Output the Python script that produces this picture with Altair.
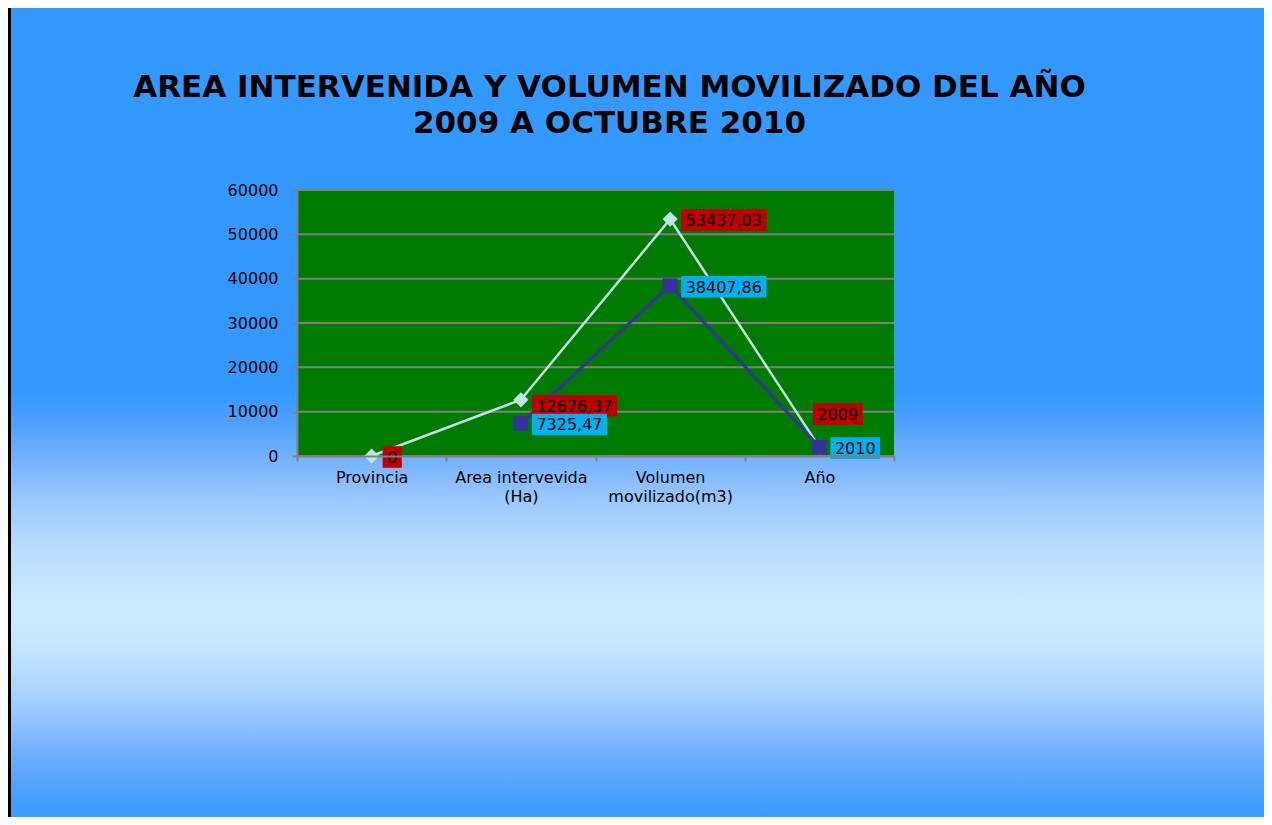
import altair as alt
import pandas as pd

# ---------------- data ----------------
categories = ["Provincia", "Area intervevida\n(Ha)", "Volumen\nmovilizado(m3)", "Año"]
serie_roja = [0, 12676.37, 53437.03, 2009]        # light line, diamonds, red labels
serie_azul = [None, 7325.47, 38407.86, 2010]      # dark line, squares, blue labels
y_ticks = [0, 10000, 20000, 30000, 40000, 50000, 60000]
title_lines = ["AREA INTERVENIDA Y VOLUMEN MOVILIZADO DEL AÑO", "2009 A OCTUBRE 2010"]


def fmt(v):
    if float(v).is_integer():
        return str(int(v))
    return f"{v:.2f}".replace(".", ",")


rows = []
for s, vals in (("s1", serie_roja), ("s2", serie_azul)):
    for c, v in zip(categories, vals):
        if v is None:
            continue
        rows.append({"serie": s, "cat": c, "value": v, "label": fmt(v)})
df = pd.DataFrame(rows)
grid_df = pd.DataFrame({"t": y_ticks})
one = pd.DataFrame({"k": [0]})
title_df = pd.DataFrame({"line": title_lines, "n": list(range(len(title_lines)))})

# ---------------- style ----------------
W, H = 597, 266
PAD = {"left": 289, "top": 182, "right": 370, "bottom": 361}
BG_BOTTOM = 635          # gradient drawn for the full 817px tall slide
GREEN = "#007A00"
GRAY = "#808080"
LIGHT = "#C2E4E4"
DARK = "#333399"
RED = "#C00000"
CYAN = "#00B0F0"
FONT = "DejaVu Sans"

x_axis = alt.Axis(title=None, labelExpr="split(datum.label, '\\n')", labelAngle=0,
                  tickBand="extent", domainColor=GRAY, domainWidth=2, tickColor=GRAY,
                  tickWidth=2, tickSize=5, labelFont=FONT, labelFontSize=16,
                  labelColor="black", labelPadding=8, labelLineHeight=19, grid=False,
                  zindex=1)
y_axis = alt.Axis(title=None, values=y_ticks, format="d", grid=False, domainColor=GRAY,
                  domainWidth=2, tickColor=GRAY, tickWidth=2, tickSize=5, labelFont=FONT,
                  labelFontSize=16, labelColor="black", labelPadding=14, zindex=1)
x_scale = alt.Scale(type="band", domain=categories, paddingInner=0, paddingOuter=0)
y_scale = alt.Scale(domain=[0, 60000], nice=False, zero=True)


def X():
    return alt.X("cat:N", scale=x_scale, axis=x_axis, sort=categories)


def Y(field="value"):
    return alt.Y(f"{field}:Q", scale=y_scale, axis=y_axis)


# ---------------- decoration ----------------
stops = [(0.0, "#3399FF"), (0.471, "#3399FF"), (0.517, "#55A3FF"), (0.553, "#76B2FF"),
         (0.602, "#9AC8FF"), (0.663, "#BADDFF"), (0.731, "#CCEBFF"), (0.774, "#C6E7FF"),
         (0.822, "#B3DAFF"), (0.871, "#95C3FF"), (0.920, "#6AABFF"), (0.969, "#45A0FF"),
         (1.0, "#3699FF")]
gradient = alt.LinearGradient(gradient="linear", x1=0, x2=0, y1=0, y2=1,
                              stops=[alt.GradientStop(offset=o, color=c) for o, c in stops])

bg = alt.Chart(one).mark_rect(fill=gradient, strokeWidth=0).encode(
    x=alt.value(-PAD["left"]), x2=alt.value(W + PAD["right"]),
    y=alt.value(-PAD["top"]), y2=alt.value(BG_BOTTOM))
border = alt.Chart(one).mark_rect(color="black").encode(
    x=alt.value(-PAD["left"]), x2=alt.value(-PAD["left"] + 3),
    y=alt.value(-PAD["top"]), y2=alt.value(BG_BOTTOM))
plot_bg = alt.Chart(one).mark_rect(color=GREEN).encode(
    x=alt.value(0), x2=alt.value(W), y=alt.value(0), y2=alt.value(H))
grid = alt.Chart(grid_df).mark_rule(color=GRAY, strokeWidth=2).encode(
    y=Y("t"), x=alt.value(0), x2=alt.value(W))

# chart title (two centred lines)
title1 = alt.Chart(title_df).transform_filter("datum.n == 0").mark_text(
    font=FONT, fontSize=31, fontWeight="bold", color="black", align="center",
    baseline="alphabetic").encode(text="line:N", x=alt.value(312.5), y=alt.value(-93))
title2 = alt.Chart(title_df).transform_filter("datum.n == 1").mark_text(
    font=FONT, fontSize=31, fontWeight="bold", color="black", align="center",
    baseline="alphabetic").encode(text="line:N", x=alt.value(312.5), y=alt.value(-57))

# ---------------- data marks ----------------
base = alt.Chart(df)
s1 = base.transform_filter("datum.serie == 's1'")
s2 = base.transform_filter("datum.serie == 's2'")

line1 = s1.mark_line(color=LIGHT, strokeWidth=2.5).encode(x=X(), y=Y())
line2 = s2.mark_line(color=DARK, strokeWidth=3).encode(x=X(), y=Y())
pts1 = s1.mark_point(shape="diamond", filled=True, size=230, color=LIGHT, opacity=1,
                     strokeWidth=0).encode(x=X(), y=Y())
pts2 = s2.mark_point(shape="square", filled=True, size=220, color=DARK, opacity=1,
                     strokeWidth=0).encode(x=X(), y=Y())

# label placement rules (Excel moved two red labels to avoid overlaps)
is_ano = "(datum.serie == 's1' && datum.cat == 'Año')"
is_area = "(datum.serie == 's1' && indexof(datum.cat, 'Area') == 0)"

labels = base.transform_calculate(
    c="indexof(datum.label, ',') >= 0 ? 1 : 0",
    ox=f"{is_ano} ? -6.4 : 11",
    oy=f"{is_ano} ? -34 : ({is_area} ? 5 : 0)",
    g=f"{is_ano} ? 'ano' : ({is_area} ? 'area' : 'n')",
).transform_calculate(
    w="(length(datum.label) - datum.c) * 10.18 + datum.c * 5.09 + 9",
).transform_calculate(
    path="'M' + datum.ox + ',' + (datum.oy - 9.8) + 'H' + (datum.ox + datum.w) + 'V' + (datum.oy + 11.8) + 'H' + datum.ox + 'Z'",
)

boxes = labels.mark_point(filled=True, size=4, opacity=1, strokeWidth=0).encode(
    x=X(), y=Y(),
    shape=alt.Shape("path:N", scale=None),
    color=alt.Color("serie:N", scale=alt.Scale(domain=["s1", "s2"], range=[RED, CYAN]),
                    legend=None),
)

text_layers = []
for g, dx, dy in (("n", 15.5, 1.8), ("area", 15.5, 6.8), ("ano", -1.9, -32.2)):
    text_layers.append(
        labels.transform_filter(f"datum.g == '{g}'").mark_text(
            align="left", baseline="middle", font=FONT, fontSize=16, color="black",
            dx=dx, dy=dy).encode(x=X(), y=Y(), text="label:N"))

chart = alt.layer(
    bg, border, plot_bg, grid, title1, title2, line1, line2, pts1, pts2, boxes, *text_layers
).properties(
    width=W, height=H,
    autosize=alt.AutoSizeParams(type="none"),
    padding=PAD,
).configure_view(stroke=None)

chart.save("out.html", embed_options={"renderer": "svg", "actions": False})
